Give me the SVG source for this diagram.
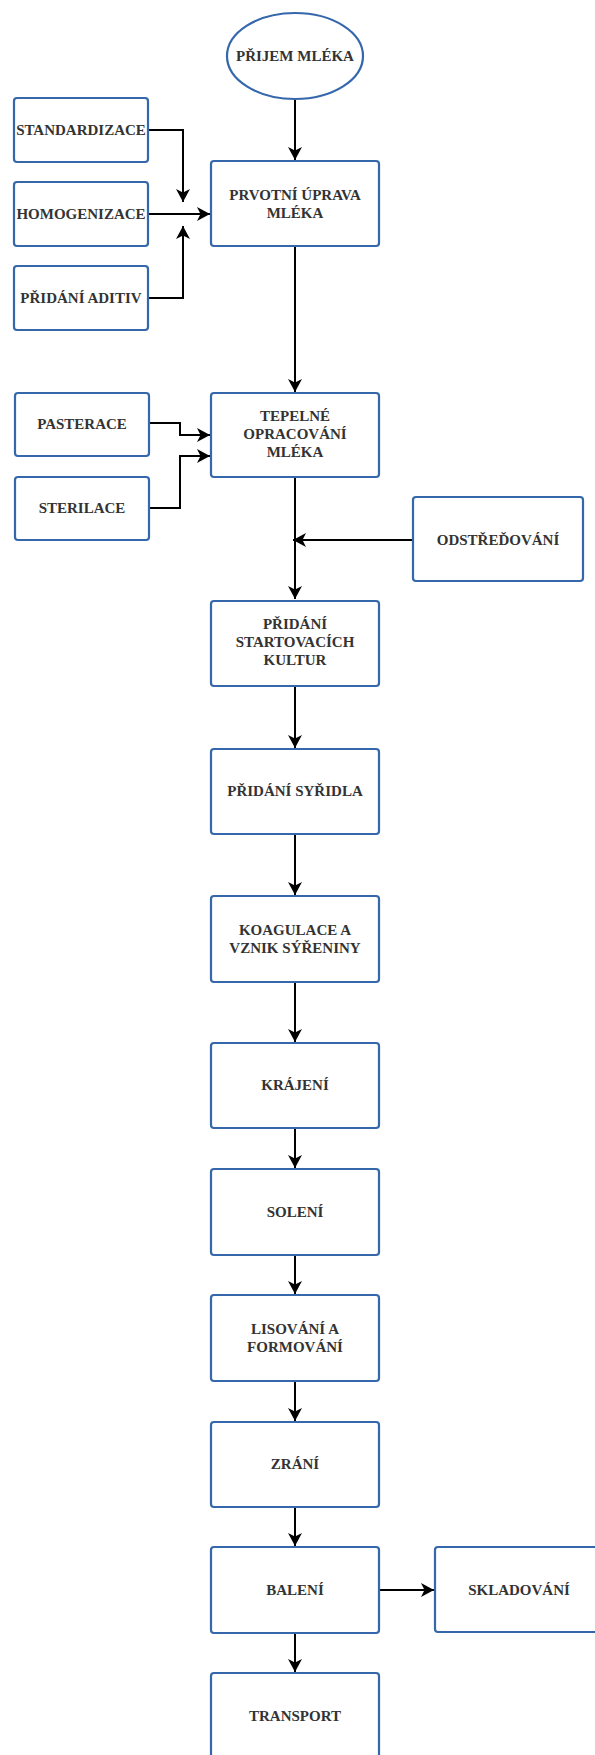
<svg xmlns="http://www.w3.org/2000/svg" width="595" height="1755" viewBox="0 0 595 1755">
<defs>
<style>
.box{fill:#fff;stroke:#3467ab;stroke-width:2.2}
.t{font-family:"Liberation Serif","Times New Roman",serif;font-weight:bold;font-size:15px;fill:#333;text-anchor:middle}
.c{fill:none;stroke:#000;stroke-width:2;marker-end:url(#arr)}
</style>
<marker id="arr" markerUnits="userSpaceOnUse" markerWidth="14" markerHeight="14" refX="13" refY="7" orient="auto">
<path d="M0,0 L13,7 L0,14 L3.5,7 Z" fill="#000"/>
</marker>
</defs>
<rect width="595" height="1755" fill="#fff"/>
<g id="connectors">
<path class="c" d="M295,99 V160"/>
<path class="c" d="M148,130 H183 V202"/>
<path class="c" d="M148,214 H210"/>
<path class="c" d="M148,298 H183 V226"/>
<path class="c" d="M295,246 V392"/>
<path class="c" d="M149,423 H180 V435 H210"/>
<path class="c" d="M149,508 H180 V456 H210"/>
<path class="c" d="M295,477 V599"/>
<path class="c" d="M413,540 H293"/>
<path class="c" d="M295,686 V748"/>
<path class="c" d="M295,834 V895"/>
<path class="c" d="M295,982 V1042"/>
<path class="c" d="M295,1128 V1168"/>
<path class="c" d="M295,1255 V1294"/>
<path class="c" d="M295,1381 V1421"/>
<path class="c" d="M295,1507 V1546"/>
<path class="c" d="M380,1590 H434"/>
<path class="c" d="M295,1633 V1672"/>
</g>
<g id="n_prijem"><ellipse class="box" cx="295" cy="56" rx="68" ry="43"/><text class="t" x="295" y="61">PŘIJEM MLÉKA</text></g>
<g id="n_standardizace"><rect class="box" x="14" y="98" width="134" height="64" rx="3"/><text class="t" x="81" y="135">STANDARDIZACE</text></g>
<g id="n_homogenizace"><rect class="box" x="14" y="182" width="134" height="64" rx="3"/><text class="t" x="81" y="219">HOMOGENIZACE</text></g>
<g id="n_aditiv"><rect class="box" x="14" y="266" width="134" height="64" rx="3"/><text class="t" x="81" y="303">PŘIDÁNÍ ADITIV</text></g>
<g id="n_prvotni"><rect class="box" x="211" y="161" width="168" height="85" rx="3"/><text class="t" x="295" y="200">PRVOTNÍ ÚPRAVA</text><text class="t" x="295" y="218">MLÉKA</text></g>
<g id="n_pasterace"><rect class="box" x="15" y="393" width="134" height="63" rx="3"/><text class="t" x="82" y="429">PASTERACE</text></g>
<g id="n_sterilace"><rect class="box" x="15" y="477" width="134" height="63" rx="3"/><text class="t" x="82" y="513">STERILACE</text></g>
<g id="n_tepelne"><rect class="box" x="211" y="393" width="168" height="84" rx="3"/><text class="t" x="295" y="421">TEPELNÉ</text><text class="t" x="295" y="439">OPRACOVÁNÍ</text><text class="t" x="295" y="457">MLÉKA</text></g>
<g id="n_odstredovani"><rect class="box" x="413" y="497" width="170" height="84" rx="3"/><text class="t" x="498" y="545">ODSTŘEĎOVÁNÍ</text></g>
<g id="n_startovaci"><rect class="box" x="211" y="601" width="168" height="85" rx="3"/><text class="t" x="295" y="629">PŘIDÁNÍ</text><text class="t" x="295" y="647">STARTOVACÍCH</text><text class="t" x="295" y="665">KULTUR</text></g>
<g id="n_syridla"><rect class="box" x="211" y="749" width="168" height="85" rx="3"/><text class="t" x="295" y="796">PŘIDÁNÍ SYŘIDLA</text></g>
<g id="n_koagulace"><rect class="box" x="211" y="896" width="168" height="86" rx="3"/><text class="t" x="295" y="935">KOAGULACE A</text><text class="t" x="295" y="953">VZNIK SÝŘENINY</text></g>
<g id="n_krajeni"><rect class="box" x="211" y="1043" width="168" height="85" rx="3"/><text class="t" x="295" y="1090">KRÁJENÍ</text></g>
<g id="n_soleni"><rect class="box" x="211" y="1169" width="168" height="86" rx="3"/><text class="t" x="295" y="1217">SOLENÍ</text></g>
<g id="n_lisovani"><rect class="box" x="211" y="1295" width="168" height="86" rx="3"/><text class="t" x="295" y="1334">LISOVÁNÍ A</text><text class="t" x="295" y="1352">FORMOVÁNÍ</text></g>
<g id="n_zrani"><rect class="box" x="211" y="1422" width="168" height="85" rx="3"/><text class="t" x="295" y="1469">ZRÁNÍ</text></g>
<g id="n_baleni"><rect class="box" x="211" y="1547" width="168" height="86" rx="3"/><text class="t" x="295" y="1595">BALENÍ</text></g>
<g id="n_skladovani"><rect class="box" x="435" y="1547" width="168" height="85" rx="3"/><text class="t" x="519" y="1595">SKLADOVÁNÍ</text></g>
<g id="n_transport"><rect class="box" x="211" y="1673" width="168" height="86" rx="3"/><text class="t" x="295" y="1721">TRANSPORT</text></g>
</svg>
